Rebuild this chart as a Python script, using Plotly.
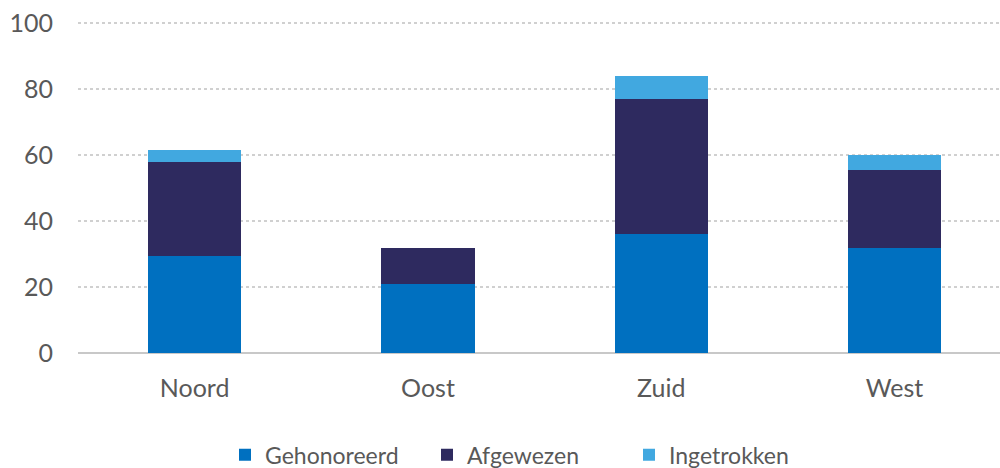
import plotly.graph_objects as go

categories = ["Noord", "Oost", "Zuid", "West"]
gehonoreerd = [29.5, 21, 36, 32]
afgewezen = [28.5, 11, 41, 23.5]
ingetrokken = [3.5, 0, 7, 4.5]
y_ticks = [0, 20, 40, 60, 80, 100]

series = [
    ("Gehonoreerd", gehonoreerd, "#0070C0"),
    ("Afgewezen", afgewezen, "#2E2A5F"),
    ("Ingetrokken", ingetrokken, "#41A8E0"),
]

fig = go.Figure()
for name, vals, color in series:
    fig.add_trace(go.Bar(x=categories, y=vals, name=name,
                         marker=dict(color=color, line=dict(width=0))))

font_family = "Lato, 'Open Sans', sans-serif"
fs = 25
fig.update_layout(
    barmode="stack",
    bargap=0.6,
    width=1000, height=468,
    margin=dict(l=78, r=0, t=22, b=115, autoexpand=False),
    paper_bgcolor="white", plot_bgcolor="white",
    font=dict(family=font_family, size=fs, color="#595959"),
    showlegend=True,
    legend=dict(orientation="h", x=0.225, xanchor="left", xref="container",
                y=0.028, yanchor="middle", yref="container",
                font=dict(size=23, color="#595959"), traceorder="normal",
                itemwidth=30, entrywidth=157, entrywidthmode="pixels"),
    xaxis=dict(range=[-0.5, 3.452], showgrid=False, showline=False, zeroline=False,
               automargin=False,
               ticks="", ticklabelstandoff=18, tickfont=dict(size=fs, color="#595959")),
    yaxis=dict(range=[0, 100.4], tickvals=y_ticks, showgrid=True, gridcolor="#D0D0D0",
               griddash="dot", gridwidth=1.5, zeroline=True, zerolinecolor="#C8C8C8",
               automargin=False,
               zerolinewidth=1.5, showline=False, ticks="", ticklabelstandoff=24,
               tickfont=dict(size=fs, color="#595959")),
)

fig.write_html("out.html", config={"displayModeBar": False},
               post_script="document.body.style.margin='0';document.body.style.overflow='hidden';")
